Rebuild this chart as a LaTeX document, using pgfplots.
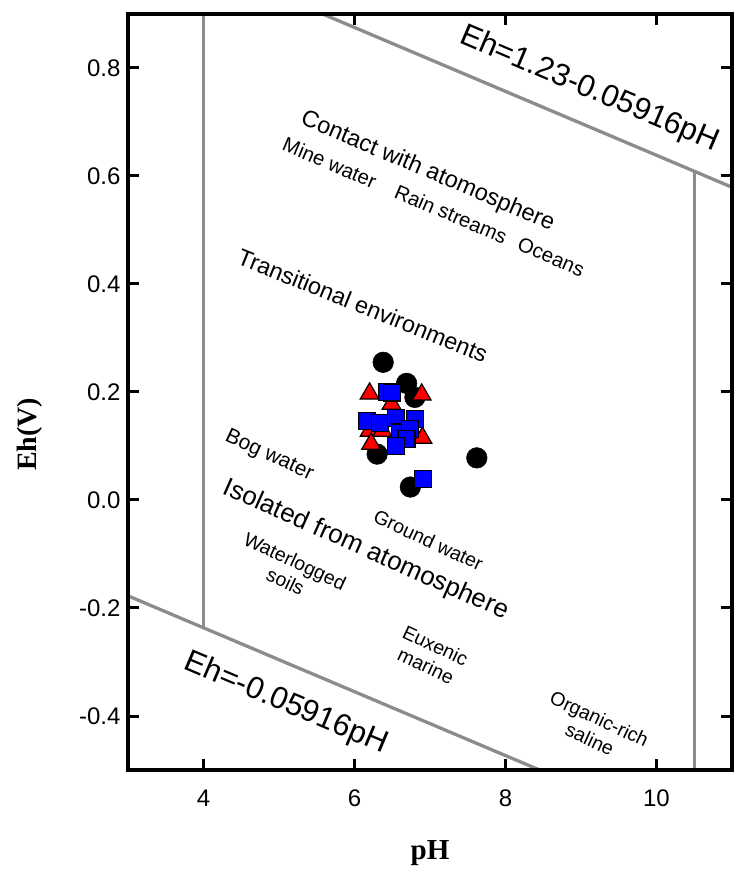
\documentclass[border=0pt]{standalone}
\usepackage{pgfplots}
\pgfplotsset{compat=1.18}
\usepackage{fontspec}
\setmainfont{Liberation Sans}
\newfontfamily\serifbf{Liberation Serif}
\definecolor{lgray}{RGB}{140,140,140}
\newcommand\fs[1]{\fontsize{#1bp}{1.15\dimexpr #1bp\relax}\selectfont}
\begin{document}
\begin{tikzpicture}
\begin{axis}[
  name=ax,
  scale only axis,
  width=604bp, height=756bp,
  xmin=3, xmax=11, ymin=-0.5, ymax=0.9,
  xtick={4,6,8,10}, xticklabels={4,6,8,10},
  ytick={-0.4,-0.2,0,0.2,0.4,0.6,0.8},
  yticklabels={-0.4,-0.2,0.0,0.2,0.4,0.6,0.8},
  tick align=inside,
  major tick length=11bp,
  every tick/.style={black, line width=3bp},
  tick label style={font=\fs{24}},
  xticklabel style={yshift=-16bp},
  yticklabel style={xshift=-4bp},
  xlabel={pH}, ylabel={Eh(V)},
  xlabel style={font=\serifbf\bfseries\fs{29}, at={(axis description cs:0.5,-0.11)}, anchor=center},
  ylabel style={font=\serifbf\bfseries\fs{28}, at={(axis description cs:-0.162,0.444)}, anchor=center},
]
% boundaries
\addplot[lgray, line width=3.3bp] coordinates {(4,0.9) (4,-0.23664)};
\addplot[lgray, line width=3.3bp] coordinates {(10.5,0.6088) (10.5,-0.5)};
\addplot[lgray, line width=3.3bp] coordinates {(5.578,0.9) (11,0.5792)};
\addplot[lgray, line width=3.3bp] coordinates {(3,-0.17748) (8.4517,-0.5)};
% black circles
\addplot[only marks, mark=*, mark size=10.3bp, mark options={fill=black, draw=black, line width=0.5bp}] coordinates {
 (6.38,0.255) (6.69,0.216) (6.80,0.19) (6.30,0.085) (7.62,0.078) (6.74,0.024)
};
% red triangles
\addplot[only marks, mark=triangle*, mark size=10.8bp, mark options={fill=red, draw=black, line width=1.2bp}] coordinates {
 (6.20,0.197) (6.89,0.195) (6.49,0.178) (6.20,0.128) (6.37,0.128) (6.22,0.104) (6.90,0.115)
};
% blue squares
\addplot[only marks, mark=square*, mark size=8.5bp, mark options={fill=blue, draw=black, line width=1.2bp}] coordinates {
 (6.43,0.200) (6.50,0.199) (6.17,0.147) (6.34,0.143) (6.55,0.152) (6.80,0.150)
 (6.60,0.125) (6.73,0.132) (6.69,0.113) (6.55,0.100) (6.91,0.039)
};
% annotations
\node[rotate=-23, font=\fs{31}] at (axis cs:9.11,0.76) {Eh=1.23-0.05916pH};
\node[rotate=-23, font=\fs{23.5}] at (axis cs:6.97,0.608) {Contact with atomosphere};
\node[rotate=-23, font=\fs{20.3}] at (axis cs:7.05,0.543) {Mine water\hspace{1.1em}Rain streams\hspace{0.7em}Oceans};
\node[rotate=-22, font=\fs{23.4}] at (axis cs:6.11,0.36) {Transitional environments};
\node[rotate=-25, font=\fs{21}] at (axis cs:4.87,0.082) {Bog water};
\node[rotate=-24, font=\fs{26}] at (axis cs:6.15,-0.093) {Isolated from atomosphere};
\node[rotate=-25, font=\fs{19.5}] at (axis cs:6.98,-0.074) {Ground water};
\node[rotate=-25, font=\fs{19.5}, align=center] at (axis cs:5.15,-0.132) {Waterlogged\\soils};
\node[rotate=-25, font=\fs{19.5}, align=center] at (axis cs:7.01,-0.288) {Euxenic\\marine};
\node[rotate=-25, font=\fs{19.5}, align=center] at (axis cs:9.18,-0.424) {Organic-rich\\saline};
\node[rotate=-23, font=\fs{31}] at (axis cs:5.09,-0.377) {Eh=-0.05916pH};
\end{axis}
\draw[line width=3.5bp] (ax.south west) rectangle (ax.north east);
\path ([shift={(-128bp,-111bp)}]ax.south west) rectangle ([shift={(0bp,14bp)}]ax.north east);
\end{tikzpicture}
\end{document}
